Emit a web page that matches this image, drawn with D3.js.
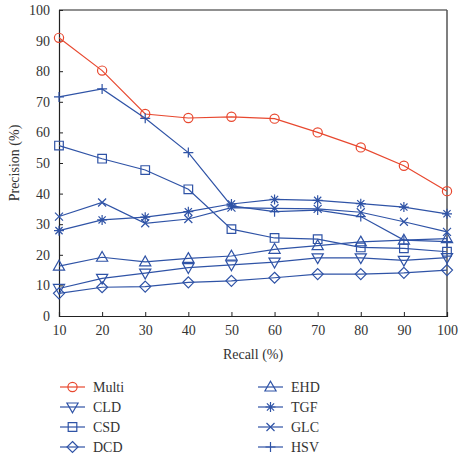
<!DOCTYPE html>
<html>
<head>
<meta charset="utf-8">
<script src="https://cdn.jsdelivr.net/npm/d3@7"></script>
<style>
  body { margin: 0; background: #fff; }
  text { font-family: "Liberation Serif", "DejaVu Serif", serif; fill: #333; }
</style>
</head>
<body>
<div class="chart"></div>
<script>
var svgWidth = 463;
var svgHeight = 454;

// recall levels (x) and precision values (y) per descriptor
var recall = [10, 20, 30, 40, 50, 60, 70, 80, 90, 100];
var multi = [90.9, 80.2, 66.0, 64.7, 65.1, 64.5, 60.0, 55.1, 49.1, 40.8];
var cld = [9.0, 12.3, 14.0, 15.8, 16.7, 17.6, 19.0, 19.0, 18.2, 19.1];
var csd = [55.7, 51.4, 47.7, 41.4, 28.4, 25.5, 25.1, 22.4, 22.1, 21.0];
var dcd = [7.4, 9.4, 9.6, 11.0, 11.5, 12.5, 13.7, 13.7, 14.1, 15.0];
var ehd = [16.3, 19.2, 17.7, 18.8, 19.6, 21.8, 23.0, 24.2, 24.8, 25.3];
var tgf = [27.9, 31.4, 32.3, 34.1, 36.6, 38.1, 37.8, 36.7, 35.6, 33.4];
var glc = [32.5, 37.1, 30.3, 31.7, 35.4, 35.2, 35.0, 33.9, 30.8, 27.5];
var hsv = [71.6, 74.2, 64.6, 53.4, 36.0, 34.1, 34.6, 32.5, 24.8, 24.3];
var yTicks = [0, 10, 20, 30, 40, 50, 60, 70, 80, 90, 100];

var red = "#e8482f";
var blue = "#2f53a6";

var series = [
  { name: "Multi", values: multi, marker: "circle", color: red },
  { name: "CLD", values: cld, marker: "tridown", color: blue },
  { name: "CSD", values: csd, marker: "square", color: blue },
  { name: "DCD", values: dcd, marker: "diamond", color: blue },
  { name: "EHD", values: ehd, marker: "triup", color: blue },
  { name: "TGF", values: tgf, marker: "star", color: blue },
  { name: "GLC", values: glc, marker: "cross", color: blue },
  { name: "HSV", values: hsv, marker: "plus", color: blue }
];

var margin = { top: 10, right: 16, bottom: 138, left: 59 };
var width = svgWidth - margin.left - margin.right;
var height = svgHeight - margin.top - margin.bottom;

var svg = d3.select(".chart")
  .append("svg")
  .attr("width", svgWidth)
  .attr("height", svgHeight);

var chartGroup = svg.append("g")
  .attr("transform", `translate(${margin.left}, ${margin.top})`);

var x_scale = d3.scaleLinear().domain([10, 100]).range([0, width]);
var y_scale = d3.scaleLinear().domain([0, 100]).range([height, 0]);

// marker path generator, centred on 0,0
function markerPath(type) {
  var p = d3.path();
  if (type === "circle") {
    p.arc(0, 0, 4.6, 0, 2 * Math.PI);
  } else if (type === "square") {
    p.rect(-4.3, -4.3, 8.6, 8.6);
  } else if (type === "diamond") {
    p.moveTo(0, -5.5); p.lineTo(5.5, 0); p.lineTo(0, 5.5); p.lineTo(-5.5, 0); p.closePath();
  } else if (type === "triup") {
    p.moveTo(0, -5.8); p.lineTo(5.6, 4); p.lineTo(-5.6, 4); p.closePath();
  } else if (type === "tridown") {
    p.moveTo(0, 5.8); p.lineTo(5.6, -4); p.lineTo(-5.6, -4); p.closePath();
  } else if (type === "plus") {
    p.moveTo(-5, 0); p.lineTo(5, 0); p.moveTo(0, -5); p.lineTo(0, 5);
  } else if (type === "cross") {
    p.moveTo(-4, -4); p.lineTo(4, 4); p.moveTo(-4, 4); p.lineTo(4, -4);
  } else if (type === "star") {
    p.moveTo(-5, 0); p.lineTo(5, 0); p.moveTo(0, -5); p.lineTo(0, 5);
    p.moveTo(-3.6, -3.6); p.lineTo(3.6, 3.6); p.moveTo(-3.6, 3.6); p.lineTo(3.6, -3.6);
  }
  return p.toString();
}

// frame: dark top edge, greyish right edge
chartGroup.append("line")
  .attr("x1", 0).attr("x2", width)
  .attr("y1", 0).attr("y2", 0)
  .attr("stroke", "#222")
  .attr("stroke-width", 1.2);
chartGroup.append("line")
  .attr("x1", width).attr("x2", width)
  .attr("y1", 0).attr("y2", height)
  .attr("stroke", "#555")
  .attr("stroke-width", 1.5);

// axes with inward ticks
var bottomAxis = d3.axisBottom(x_scale).tickValues(recall).tickSize(-4).tickPadding(9);
var leftAxis = d3.axisLeft(y_scale).tickValues(yTicks).tickSize(-4).tickPadding(9);

var xg = chartGroup.append("g")
  .attr("transform", `translate(0, ${height})`)
  .call(bottomAxis);
var yg = chartGroup.append("g").call(leftAxis);

[xg, yg].forEach(function (g) {
  g.select(".domain").attr("stroke", "#222").attr("stroke-width", 1.2);
  g.selectAll(".tick line").attr("stroke", "#222");
  g.selectAll(".tick text")
    .attr("font-size", "14px")
    .attr("font-family", "Liberation Serif, serif")
    .attr("fill", "#333");
});

// lines + markers
var line = d3.line()
  .x((d, i) => x_scale(recall[i]))
  .y(d => y_scale(d));

series.forEach(function (s) {
  chartGroup.append("path")
    .datum(s.values)
    .attr("d", line)
    .attr("fill", "none")
    .attr("stroke", s.color)
    .attr("stroke-width", 1.2);

  chartGroup.selectAll(null)
    .data(s.values)
    .enter()
    .append("path")
    .attr("transform", (d, i) => `translate(${x_scale(recall[i])}, ${y_scale(d)})`)
    .attr("d", markerPath(s.marker))
    .attr("fill", "none")
    .attr("stroke", s.color)
    .attr("stroke-width", 1.2);
});

// axis labels
chartGroup.append("text")
  .attr("transform", "rotate(-90)")
  .attr("x", 0 - height / 2)
  .attr("y", 0 - margin.left + 19)
  .attr("text-anchor", "middle")
  .attr("font-size", "14px")
  .text("Precision (%)");

chartGroup.append("text")
  .attr("x", width / 2)
  .attr("y", height + 43)
  .attr("text-anchor", "middle")
  .attr("font-size", "14px")
  .text("Recall (%)");

// legend, two columns of four
var legend = svg.append("g");
series.forEach(function (s, i) {
  var col = Math.floor(i / 4);
  var row = i % 4;
  var lx = 60 + col * 198;
  var ly = 387 + row * 20;
  var item = legend.append("g").attr("transform", `translate(${lx}, ${ly})`);
  item.append("line")
    .attr("x1", 0).attr("x2", 25)
    .attr("y1", 0).attr("y2", 0)
    .attr("stroke", s.color)
    .attr("stroke-width", 1.2);
  item.append("path")
    .attr("transform", "translate(12.5, 0)")
    .attr("d", markerPath(s.marker))
    .attr("fill", "none")
    .attr("stroke", s.color)
    .attr("stroke-width", 1.2);
  item.append("text")
    .attr("x", 33)
    .attr("y", 4.5)
    .attr("font-size", "14px")
    .text(s.name);
});
</script>
</body>
</html>
